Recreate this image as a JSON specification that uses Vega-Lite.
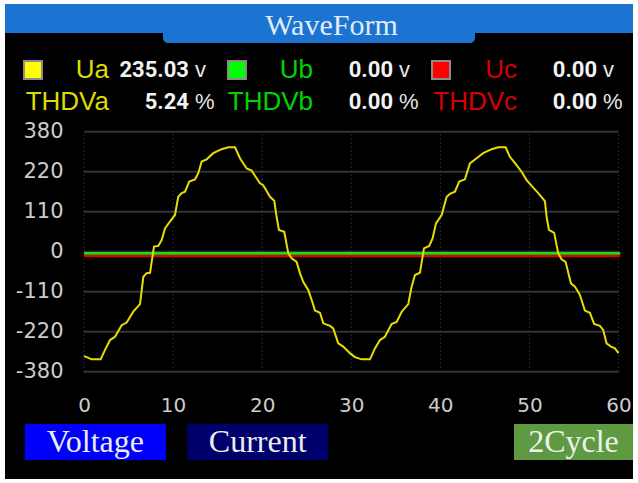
{
  "$schema": "https://vega.github.io/schema/vega-lite/v6.json",
  "background": "white",
  "padding": {"left": 5, "top": 4, "right": 5, "bottom": 4},
  "spacing": 0,
  "bounds": "flush",
  "config": {"view": {"stroke": null}, "axis": {"grid": false, "domain": false, "ticks": false}},
  "resolve": {"scale": {"x": "independent", "y": "independent", "color": "independent", "fill": "independent"}},
  "datasets": {
    "wave": [
      {"t": 0.00, "v": -287, "phase": "Ua"}, {"t": 0.30, "v": -290, "phase": "Ua"}, {"t": 0.86, "v": -296, "phase": "Ua"},
      {"t": 1.87, "v": -296, "phase": "Ua"}, {"t": 2.36, "v": -270, "phase": "Ua"}, {"t": 2.92, "v": -243, "phase": "Ua"},
      {"t": 3.48, "v": -234, "phase": "Ua"}, {"t": 4.23, "v": -202, "phase": "Ua"}, {"t": 4.79, "v": -195, "phase": "Ua"},
      {"t": 5.53, "v": -165, "phase": "Ua"}, {"t": 6.29, "v": -144, "phase": "Ua"}, {"t": 6.66, "v": -69, "phase": "Ua"},
      {"t": 7.04, "v": -59, "phase": "Ua"}, {"t": 7.41, "v": -58, "phase": "Ua"}, {"t": 7.86, "v": 14, "phase": "Ua"},
      {"t": 8.34, "v": 16, "phase": "Ua"}, {"t": 8.72, "v": 32, "phase": "Ua"}, {"t": 9.09, "v": 64, "phase": "Ua"},
      {"t": 9.65, "v": 83, "phase": "Ua"}, {"t": 10.21, "v": 101, "phase": "Ua"}, {"t": 10.58, "v": 151, "phase": "Ua"},
      {"t": 10.97, "v": 161, "phase": "Ua"}, {"t": 11.34, "v": 165, "phase": "Ua"}, {"t": 11.82, "v": 193, "phase": "Ua"},
      {"t": 12.46, "v": 199, "phase": "Ua"}, {"t": 12.83, "v": 216, "phase": "Ua"}, {"t": 13.21, "v": 248, "phase": "Ua"},
      {"t": 13.77, "v": 254, "phase": "Ua"}, {"t": 14.51, "v": 271, "phase": "Ua"}, {"t": 15.45, "v": 282, "phase": "Ua"},
      {"t": 16.20, "v": 287, "phase": "Ua"}, {"t": 16.95, "v": 287, "phase": "Ua"}, {"t": 17.51, "v": 257, "phase": "Ua"},
      {"t": 18.26, "v": 229, "phase": "Ua"}, {"t": 18.82, "v": 223, "phase": "Ua"}, {"t": 19.38, "v": 202, "phase": "Ua"},
      {"t": 19.75, "v": 188, "phase": "Ua"}, {"t": 20.12, "v": 183, "phase": "Ua"}, {"t": 20.88, "v": 151, "phase": "Ua"},
      {"t": 21.36, "v": 140, "phase": "Ua"}, {"t": 21.62, "v": 96, "phase": "Ua"}, {"t": 21.88, "v": 60, "phase": "Ua"},
      {"t": 22.48, "v": 55, "phase": "Ua"}, {"t": 22.93, "v": -4, "phase": "Ua"}, {"t": 23.31, "v": -18, "phase": "Ua"},
      {"t": 23.87, "v": -28, "phase": "Ua"}, {"t": 24.24, "v": -59, "phase": "Ua"}, {"t": 24.61, "v": -83, "phase": "Ua"},
      {"t": 25.17, "v": -105, "phase": "Ua"}, {"t": 25.56, "v": -133, "phase": "Ua"}, {"t": 25.93, "v": -162, "phase": "Ua"},
      {"t": 26.49, "v": -168, "phase": "Ua"}, {"t": 26.86, "v": -197, "phase": "Ua"}, {"t": 27.61, "v": -204, "phase": "Ua"},
      {"t": 27.98, "v": -211, "phase": "Ua"}, {"t": 28.54, "v": -252, "phase": "Ua"}, {"t": 29.10, "v": -261, "phase": "Ua"},
      {"t": 29.85, "v": -279, "phase": "Ua"}, {"t": 30.42, "v": -290, "phase": "Ua"}, {"t": 31.17, "v": -296, "phase": "Ua"},
      {"t": 32.10, "v": -296, "phase": "Ua"}, {"t": 32.66, "v": -266, "phase": "Ua"}, {"t": 33.22, "v": -243, "phase": "Ua"},
      {"t": 33.78, "v": -234, "phase": "Ua"}, {"t": 34.53, "v": -199, "phase": "Ua"}, {"t": 35.10, "v": -193, "phase": "Ua"},
      {"t": 35.66, "v": -165, "phase": "Ua"}, {"t": 36.40, "v": -144, "phase": "Ua"}, {"t": 36.78, "v": -96, "phase": "Ua"},
      {"t": 37.15, "v": -64, "phase": "Ua"}, {"t": 37.71, "v": -58, "phase": "Ua"}, {"t": 38.16, "v": 9, "phase": "Ua"},
      {"t": 38.75, "v": 16, "phase": "Ua"}, {"t": 39.14, "v": 37, "phase": "Ua"}, {"t": 39.51, "v": 78, "phase": "Ua"},
      {"t": 40.15, "v": 101, "phase": "Ua"}, {"t": 40.71, "v": 151, "phase": "Ua"}, {"t": 41.08, "v": 159, "phase": "Ua"},
      {"t": 41.64, "v": 165, "phase": "Ua"}, {"t": 42.12, "v": 193, "phase": "Ua"}, {"t": 42.76, "v": 199, "phase": "Ua"},
      {"t": 43.32, "v": 243, "phase": "Ua"}, {"t": 44.07, "v": 257, "phase": "Ua"}, {"t": 44.81, "v": 271, "phase": "Ua"},
      {"t": 45.76, "v": 282, "phase": "Ua"}, {"t": 46.50, "v": 287, "phase": "Ua"}, {"t": 47.33, "v": 287, "phase": "Ua"},
      {"t": 47.81, "v": 261, "phase": "Ua"}, {"t": 48.56, "v": 238, "phase": "Ua"}, {"t": 49.12, "v": 220, "phase": "Ua"},
      {"t": 49.69, "v": 197, "phase": "Ua"}, {"t": 50.25, "v": 181, "phase": "Ua"}, {"t": 50.99, "v": 161, "phase": "Ua"},
      {"t": 51.74, "v": 139, "phase": "Ua"}, {"t": 51.93, "v": 96, "phase": "Ua"}, {"t": 52.19, "v": 60, "phase": "Ua"},
      {"t": 52.78, "v": 52, "phase": "Ua"}, {"t": 53.23, "v": -4, "phase": "Ua"}, {"t": 53.61, "v": -21, "phase": "Ua"},
      {"t": 54.06, "v": -28, "phase": "Ua"}, {"t": 54.66, "v": -87, "phase": "Ua"}, {"t": 55.11, "v": -96, "phase": "Ua"},
      {"t": 55.67, "v": -119, "phase": "Ua"}, {"t": 56.23, "v": -162, "phase": "Ua"}, {"t": 56.79, "v": -168, "phase": "Ua"},
      {"t": 57.27, "v": -199, "phase": "Ua"}, {"t": 57.91, "v": -204, "phase": "Ua"}, {"t": 58.28, "v": -215, "phase": "Ua"},
      {"t": 58.66, "v": -252, "phase": "Ua"}, {"t": 59.15, "v": -261, "phase": "Ua"}, {"t": 59.60, "v": -266, "phase": "Ua"},
      {"t": 60.00, "v": -279, "phase": "Ua"},
      {"t": 0, "v": -4.5, "phase": "Ub"}, {"t": 60.2, "v": -4.5, "phase": "Ub"},
      {"t": 0, "v": -12, "phase": "Uc"}, {"t": 60.2, "v": -12, "phase": "Uc"}
    ],
    "legend": [
      {"ch": "a", "row": "U", "label": "Ua", "val": 235.03, "unit": "v"},
      {"ch": "b", "row": "U", "label": "Ub", "val": 0, "unit": "v"},
      {"ch": "c", "row": "U", "label": "Uc", "val": 0, "unit": "v"},
      {"ch": "a", "row": "THD", "label": "THDVa", "val": 5.24, "unit": "%"},
      {"ch": "b", "row": "THD", "label": "THDVb", "val": 0, "unit": "%"},
      {"ch": "c", "row": "THD", "label": "THDVc", "val": 0, "unit": "%"}
    ]
  },
  "vconcat": [
    {
      "width": 628, "height": 29,
      "view": {"fill": "#1b74d2", "stroke": null},
      "data": {"values": [{"part": "bar"}]},
      "mark": {"type": "rect", "color": "#1b74d2"}
    },
    {
      "width": 628, "height": 10,
      "view": {"fill": "black", "stroke": null},
      "data": {"values": [{"part": "WaveForm"}]},
      "layer": [
        {
          "mark": {"type": "rect", "color": "#1b74d2", "cornerRadiusBottomLeft": 10, "cornerRadiusBottomRight": 10},
          "encoding": {"x": {"field": "part", "type": "nominal", "axis": null, "scale": {"type": "band", "paddingInner": 0, "paddingOuter": 0.5064}}}
        },
        {
          "mark": {"type": "text", "baseline": "alphabetic", "align": "center", "dy": -3, "font": "Liberation Serif", "fontSize": 30, "color": "#e2ebf6"},
          "encoding": {
            "x": {"field": "part", "type": "nominal", "axis": null, "bandPosition": 0.54, "scale": {"type": "band", "paddingInner": 0, "paddingOuter": 0.5064}},
            "text": {"field": "part"}
          }
        }
      ]
    },
    {
      "width": 628, "height": 75,
      "view": {"fill": "black", "stroke": null},
      "data": {"name": "legend"},
      "layer": [
        {
          "transform": [{"filter": "datum.row == 'U'"}],
          "mark": {"type": "point", "shape": "square", "filled": true, "size": 324, "stroke": "#8c8c8c", "strokeWidth": 2, "opacity": 1},
          "encoding": {
            "x": {"field": "ch", "type": "nominal", "axis": null, "bandPosition": 0.098, "scale": {"type": "band", "domain": ["a", "b", "c"], "paddingInner": 0, "paddingOuter": 0.039}},
            "y": {"field": "row", "type": "nominal", "axis": null, "scale": {"type": "band", "domain": ["U", "THD"], "paddingInner": 0, "paddingOuter": 0.172, "align": 1}},
            "fill": {"field": "ch", "type": "nominal", "legend": null, "scale": {"domain": ["a", "b", "c"], "range": ["#ffff00", "#00ff00", "#ff0000"]}}
          }
        },
        {
          "mark": {"type": "text", "align": "right", "baseline": "middle", "font": "Liberation Sans", "fontSize": 26},
          "encoding": {
            "x": {"field": "ch", "type": "nominal", "axis": null, "bandPosition": 0.4706, "scale": {"type": "band", "domain": ["a", "b", "c"], "paddingInner": 0, "paddingOuter": 0.039}},
            "y": {"field": "row", "type": "nominal", "axis": null, "scale": {"type": "band", "domain": ["U", "THD"], "paddingInner": 0, "paddingOuter": 0.172, "align": 1}},
            "color": {"field": "ch", "type": "nominal", "legend": null, "scale": {"domain": ["a", "b", "c"], "range": ["#dcdc00", "#00d400", "#d60000"]}},
            "text": {"field": "label"}
          }
        },
        {
          "mark": {"type": "text", "align": "right", "baseline": "middle", "font": "Roboto", "fontWeight": "bold", "fontSize": 22, "color": "#f2f2f2"},
          "encoding": {
            "x": {"field": "ch", "type": "nominal", "axis": null, "bandPosition": 0.8627, "scale": {"type": "band", "domain": ["a", "b", "c"], "paddingInner": 0, "paddingOuter": 0.039}},
            "y": {"field": "row", "type": "nominal", "axis": null, "scale": {"type": "band", "domain": ["U", "THD"], "paddingInner": 0, "paddingOuter": 0.172, "align": 1}},
            "text": {"field": "val", "type": "quantitative", "format": ".2f"}
          }
        },
        {
          "mark": {"type": "text", "align": "left", "baseline": "middle", "font": "Liberation Sans", "fontSize": 22, "color": "#e6e6e6"},
          "encoding": {
            "x": {"field": "ch", "type": "nominal", "axis": null, "bandPosition": 0.892, "scale": {"type": "band", "domain": ["a", "b", "c"], "paddingInner": 0, "paddingOuter": 0.039}},
            "y": {"field": "row", "type": "nominal", "axis": null, "scale": {"type": "band", "domain": ["U", "THD"], "paddingInner": 0, "paddingOuter": 0.172, "align": 1}},
            "text": {"field": "unit"}
          }
        }
      ]
    },
    {
      "width": 628, "height": 297,
      "view": {"fill": "black", "stroke": null},
      "layer": [
        {
          "data": {"values": [{"gv": 330, "x0": 0, "x1": 60}, {"gv": 220, "x0": 0, "x1": 60}, {"gv": 110, "x0": 0, "x1": 60}, {"gv": 0, "x0": 0, "x1": 60}, {"gv": -110, "x0": 0, "x1": 60}, {"gv": -220, "x0": 0, "x1": 60}, {"gv": -330, "x0": 0, "x1": 60}]},
          "mark": {"type": "rule", "color": "#333333", "strokeWidth": 2},
          "encoding": {
            "y": {"field": "gv", "type": "quantitative", "scale": {"domain": [-449.1, 367.7], "nice": false, "zero": false},
                  "axis": {"values": [-330, -220, -110, 0, 110, 220, 330], "orient": "left", "offset": -79, "labelPadding": 21, "ticks": false, "tickSize": 0, "domain": false, "grid": false, "title": null,
                           "labelColor": "#cccccc", "labelFont": "DejaVu Sans", "labelFontSize": 21, "labelFlush": false, "labelOverlap": false, "labelBound": false,
                           "labelExpr": "datum.value == 330 ? '380' : (datum.value == -330 ? '-380' : toString(datum.value))"}},
            "x": {"field": "x0", "type": "quantitative", "scale": {"domain": [-8.868, 61.628], "nice": false, "zero": false},
                  "axis": {"values": [0, 10, 20, 30, 40, 50, 60], "orient": "bottom", "offset": -43.3, "labelPadding": 24, "ticks": false, "tickSize": 0, "domain": false, "grid": false, "title": null,
                           "labelColor": "#cccccc", "labelFont": "DejaVu Sans", "labelFontSize": 20, "labelFlush": false, "labelOverlap": false, "labelBound": false, "labelBaseline": "top"}},
            "x2": {"field": "x1"}
          }
        },
        {
          "data": {"values": [{"xv": 0}, {"xv": 10}, {"xv": 20}, {"xv": 30}, {"xv": 40}, {"xv": 50}, {"xv": 60}]},
          "mark": {"type": "rule", "color": "#4a4a4a", "strokeWidth": 1, "strokeDash": [1, 3]},
          "encoding": {
            "x": {"field": "xv", "type": "quantitative", "scale": {"domain": [-8.868, 61.628], "nice": false, "zero": false}},
            "y": {"datum": -330, "type": "quantitative", "scale": {"domain": [-449.1, 367.7], "nice": false, "zero": false}},
            "y2": {"datum": 330}
          }
        },
        {
          "data": {"name": "wave"},
          "transform": [{"filter": "datum.phase == 'Uc'"}],
          "mark": {"type": "line", "color": "#e00000", "strokeWidth": 2.6},
          "encoding": {
            "x": {"field": "t", "type": "quantitative", "scale": {"domain": [-8.868, 61.628], "nice": false, "zero": false}},
            "y": {"field": "v", "type": "quantitative", "scale": {"domain": [-449.1, 367.7], "nice": false, "zero": false}}
          }
        },
        {
          "data": {"name": "wave"},
          "transform": [{"filter": "datum.phase == 'Ub'"}],
          "mark": {"type": "line", "color": "#14e014", "strokeWidth": 2.6},
          "encoding": {
            "x": {"field": "t", "type": "quantitative", "scale": {"domain": [-8.868, 61.628], "nice": false, "zero": false}},
            "y": {"field": "v", "type": "quantitative", "scale": {"domain": [-449.1, 367.7], "nice": false, "zero": false}}
          }
        },
        {
          "data": {"name": "wave"},
          "transform": [{"filter": "datum.phase == 'Ua'"}],
          "mark": {"type": "line", "color": "#e6de00", "strokeWidth": 2},
          "encoding": {
            "x": {"field": "t", "type": "quantitative", "scale": {"domain": [-8.868, 61.628], "nice": false, "zero": false}},
            "y": {"field": "v", "type": "quantitative", "scale": {"domain": [-449.1, 367.7], "nice": false, "zero": false}}
          }
        }
      ]
    },
    {
      "width": 628, "height": 64,
      "view": {"fill": "black", "stroke": null},
      "resolve": {"scale": {"x": "independent"}},
      "layer": [
        {
          "data": {"values": [{"btn": "Voltage", "r": "b"}, {"btn": "Current", "r": "b"}]},
          "encoding": {
            "x": {"field": "btn", "type": "nominal", "axis": null, "sort": null, "scale": {"type": "band", "domain": ["Voltage", "Current"], "paddingInner": 0.1304, "paddingOuter": 1, "align": 0.0612}},
            "y": {"field": "r", "type": "nominal", "axis": null, "scale": {"type": "band", "paddingInner": 0, "paddingOuter": 0.3889, "align": 0.3214}}
          },
          "layer": [
            {
              "mark": {"type": "rect"},
              "encoding": {"color": {"field": "btn", "type": "nominal", "legend": null, "scale": {"domain": ["Voltage", "Current"], "range": ["#0000fa", "#00006c"]}}}
            },
            {
              "mark": {"type": "text", "align": "center", "baseline": "middle", "font": "Liberation Serif", "fontSize": 32, "color": "#ececec"},
              "encoding": {"text": {"field": "btn"}}
            }
          ]
        },
        {
          "data": {"values": [{"btn": "2Cycle", "r": "b"}]},
          "encoding": {
            "x": {"field": "btn", "type": "nominal", "axis": null, "scale": {"type": "band", "domain": ["2Cycle"], "paddingInner": 0.5324, "paddingOuter": 1, "align": 1}},
            "y": {"field": "r", "type": "nominal", "axis": null, "scale": {"type": "band", "paddingInner": 0, "paddingOuter": 0.3889, "align": 0.3214}}
          },
          "layer": [
            {"mark": {"type": "rect", "color": "#5f9a42"}},
            {
              "mark": {"type": "text", "align": "center", "baseline": "middle", "font": "Liberation Serif", "fontSize": 32, "color": "#eef2ea"},
              "encoding": {"text": {"field": "btn"}}
            }
          ]
        }
      ]
    }
  ]
}
